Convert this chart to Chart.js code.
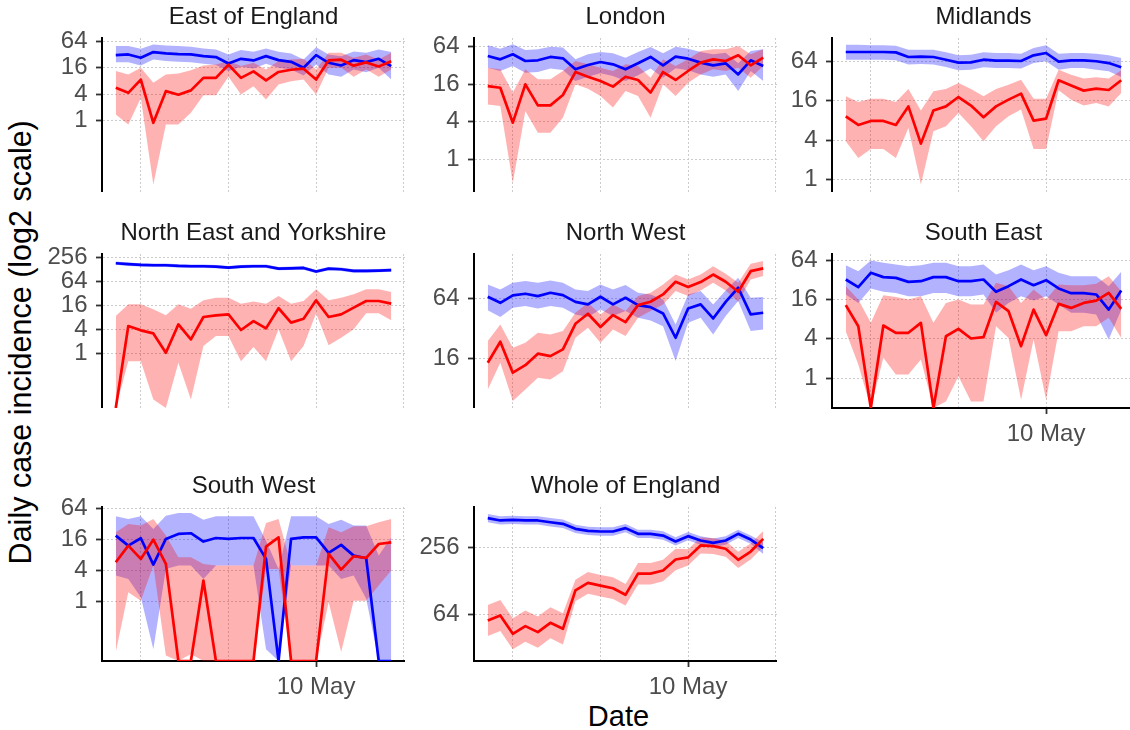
<!DOCTYPE html>
<html>
<head>
<meta charset="utf-8">
<script src="https://cdn.jsdelivr.net/npm/chart.js"></script>
<style>
  body { margin: 0; width: 1130px; height: 730px; overflow: hidden; background: #fff; position: relative;
         font-family: "Liberation Sans", Arial, sans-serif; }
  .panel { position: absolute; }
  #ytitle { position: absolute; left: -230px; top: 323.7px; width: 500px; height: 36.6px; line-height: 36.6px;
            font-size: 30.5px; text-align: center; color: #000; transform: rotate(-90deg); white-space: nowrap; }
  #xtitle { position: absolute; left: 418.5px; top: 699px; width: 400px; line-height: 34.8px;
            font-size: 29px; text-align: center; color: #000; }
</style>
</head>
<body>
<div id="ytitle">Daily case incidence (log2 scale)</div>
<div id="xtitle">Date</div>
<script>
// days shown on the x axis (index 0 = 24 Apr)
const dates = ['24 Apr','25 Apr','26 Apr','27 Apr','28 Apr','29 Apr','30 Apr','1 May','2 May','3 May','4 May','5 May',
               '6 May','7 May','8 May','9 May','10 May','11 May','12 May','13 May','14 May','15 May','16 May'];
const xGridDays = [2, 9, 16, 23];
const xLabelDays = [16];

// East of England
const eastBlue   = [30.9,32,26.9,36.2,33.8,32.6,32,29.3,27.9,20,25.5,23.4,29.3,23.8,21.8,16,30.9,20.7,18,23.8,21.4,25.5,17.4];
const eastBlueHi = [49.5,49.5,43.1,53.9,51.2,49.5,47.8,43.7,41.6,32,40.2,36.8,43.7,36.8,33.8,24.6,46.9,32,29.3,37.5,35,41.6,36.2];
const eastBlueLo = [21.4,21.4,18,24.6,22.6,21.8,21.4,19.7,18.4,13.4,16.8,15.4,19.7,16,14.6,10.7,19,11.2,10,14.6,12.7,16,8.7];
const eastRed    = [5.6,4.3,8.6,0.9,4.7,3.9,4.9,9.4,9.4,18.7,9.4,13.2,8.3,12.8,14.4,15.2,8.6,23.4,24.3,17.8,21.1,17.1,22.3];
const eastRedHi  = [13.4,11.2,16,7.3,11.2,11.9,14.1,18,19,22.6,17.4,20.7,14.6,22.6,24.6,25.5,14.6,35,35,26.9,32,24.6,35];
const eastRedLo  = [1.39,0.82,3.3,0.036,0.82,0.82,1.52,3.8,3.8,10,3.95,6.1,3.05,6.7,7.9,8.7,3.95,16,16,10,14.6,10,14.6];

// London
const londonBlue   = [45.6,40.3,48.5,37.9,38.9,44,41.8,27.9,32.7,36.5,33.5,27.9,34.8,44,32.3,44.5,41.3,35.7,32.3,34.8,23.1,38.9,31.5];
const londonBlueHi = [67.6,59.7,70.1,56.9,58.4,64.4,62.1,40.3,48.5,52.8,50.3,42.9,52.8,63.6,50.3,64.4,59.7,52.8,48.5,51.6,34.8,54.9,58.4];
const londonBlueLo = [29.6,26.2,31.5,24.6,25.2,28.6,27.2,18.1,21.2,24,21.8,18.1,22.3,28.6,20.5,28.9,26.9,23.1,21.2,23.1,12.5,26.2,18.1];
const londonRed    = [15,14.1,3.88,16,7.36,7.36,10.8,25.2,21.2,18.1,14.7,21.2,18.8,11.8,25.2,18.8,26.2,35.7,40.3,37.9,46.8,32.3,42.9];
const londonRedHi  = [29.6,27.9,11.8,27.9,19.3,19.3,26.2,37.9,33.5,29.6,26.2,33.5,31.5,20.5,40.3,31.5,40.3,54.9,58.4,58.4,65.9,48.5,58.4];
const londonRedLo  = [7.6,7.2,0.42,6.0,2.68,2.68,4.66,16,13.6,10.4,6.8,12.5,10.4,4.66,16,10.4,17,23.1,27.9,26.2,29.6,20.5,31.5];

// Midlands
const midBlue   = [88.6,88.6,88.6,88.6,87.5,74.4,75.4,74.4,67.6,60.9,61.7,67.6,65.4,65.4,64.6,78.8,85.6,63.3,66.2,66.2,64,60.1,51.7];
const midBlueHi = [114.6,114.6,112,112,110.7,96.3,96.3,96.3,87.5,78.8,80.6,87.5,85.6,85.6,83.7,101.8,112,83.7,85.6,85.6,83.7,78.8,71.8];
const midBlueLo = [67.6,67.6,67.6,67.6,66.2,56.9,58.1,56.9,52.4,46.5,47.5,51.7,50.6,50.6,49.5,60.1,64,47.5,50.6,50.6,47.5,44.9,36.8];
const midRed    = [9.25,6.82,7.85,7.85,6.82,13.1,3.54,11.3,13.1,18.2,13.5,8.93,13.1,16.6,20.5,7.94,8.52,32.8,27.2,22.8,24.4,23.3,32.8];
const midRedHi  = [18.7,15.3,17.2,17.2,15.3,24.1,11.3,22.3,24.1,29.8,24.1,18.7,24.1,28.1,33.5,17.2,17.2,47.6,40,34.8,36.4,34.8,46.5];
const midRedLo  = [3.84,2.14,2.93,2.93,2.14,6.14,0.84,5.46,6.5,10.4,6.5,3.84,6.5,9.25,11.7,2.93,2.93,23.1,16.6,13.5,14.8,13.1,21];

// North East and Yorkshire
const neBlue   = [181,171,164,161,161,155,152,152,149,141,149,152,152,133,135,138,112,133,128,116,116,118,121];
const neBlueHi = [199,188,180,177,177,171,167,167,164,155,164,167,167,146,149,152,123,146,141,128,128,130,133];
const neBlueLo = [165,155,149,146,146,141,138,138,135,128,135,138,138,121,123,125,102,121,116,105,105,107,110];
const neRed    = [0,4.85,3.78,3.17,1.04,5.33,2.24,8.15,8.98,9.51,3.85,6.46,4.24,13.5,5.89,7.41,21.3,8.15,9.51,14,20.5,20.5,17.6];
const neRedHi  = [8.64,17,17,12.7,8.98,17,13.2,21.3,24.9,24.9,17.6,19.8,17.6,27.4,17.6,20.5,40.3,21.3,24.9,30.2,40.3,40.3,34.5];
const neRedLo  = [0,0.64,0.64,0.07,0,0.58,0.07,1.53,2.72,2.72,0.64,1.44,0.64,4,0.64,1.53,10.1,1.59,2.47,4,10.1,10.1,6.73];

// North West
const nwBlue   = [67,58.3,69.1,71.9,68.1,73.5,69.7,59.6,56.2,67,56.2,65.5,55.3,52.8,45.6,26,51.2,56.2,40.6,59.6,82.5,44.6,46.3];
const nwBlueHi = [89.1,79.4,92.6,96.3,92.6,97.8,92.6,79.4,76.4,89.1,79.4,87.8,73.5,70.7,63,35.4,70.7,76.4,56.2,77.6,104,65.5,66.5];
const nwBlueLo = [49.2,41.9,52,54,51.2,54,52,44.6,41.9,50,42.9,48.1,41.3,38.8,34,15.2,36.8,41.3,28.1,42.9,60.6,30.3,31.5];
const nwRed    = [14.6,23.7,11.6,13.8,18,17,19.9,35.9,45.3,33.3,43.9,37.3,55.3,59.7,70.7,94.8,83.8,94.1,112,94.8,75.2,121,129];
const nwRedHi  = [24.1,35.4,20.6,23.2,29.2,28.1,30.3,46.3,58.3,44.6,56.2,48.1,68.1,73.5,89.1,112,100,112,136,114,92.6,144,153];
const nwRedLo  = [7.88,14.6,6.02,7.88,10.3,9.93,12,26,32.7,23.2,31.5,27,41.3,48.1,56.2,76.4,68.1,77.6,92.6,77.6,59.7,100,108];

// South East
const seBlue   = [32.4,24.7,41,35.2,34.3,29.8,30.5,35.2,35.2,30.5,30.5,32.4,21,25.6,32.4,26.5,31.6,23.6,20,20,19.1,11.2,22];
const seBlueHi = [53.7,43.4,63.3,58.2,54.9,51.8,53.7,58.2,58.2,51.8,51.8,54.9,38.6,44.9,54.9,44.9,51.8,41,36.4,36.4,36.4,25.6,42.4];
const seBlueLo = [19.1,14.2,23.6,21,20.2,18,18,20.2,20.2,18,18,19.1,10,14.2,18,15.4,18,13.4,10,10,9.43,3.91,11.2];
const seRed    = [13.1,6.25,0,6.4,4.95,4.95,7.03,0,4.39,5.69,4.05,4.24,14.7,10.6,3.09,11.2,4.55,13.7,11.9,14.2,15.4,20.2,11.5];
const seRedHi  = [25.6,16,7.03,18.6,17.4,16,18,7.03,14.2,16,13.4,13.4,28.8,25.6,14.2,22.8,16,27.1,26.5,26.5,27.8,36.4,21.4];
const seRedLo  = [5.24,1.62,0,2.05,1.14,1.14,1.93,0,0.44,1.07,0.44,0.44,6.25,4.14,0.47,3.91,0.47,5.24,5.24,6.25,6.25,8.39,4.14];

// South West
const swBlue   = [18.9,12.1,16.8,5.2,16.3,20.4,21,14.5,17,16.3,17,17,6.69,0,16.3,17.5,17.5,8.73,12.5,7.75,6.88,0,0];
const swBlueHi = [44.7,39.7,44.7,25.4,46,52,52,38.5,44.7,44.7,44.7,44.7,15.1,4.28,44.7,44.7,44.7,31.8,38.5,29.5,29.5,7.75,17.5];
const swBlueLo = [3.18,2.74,1.21,0.12,4.28,4.97,4.97,2.74,4.97,4.97,4.97,4.97,0.12,0,4.97,4.97,4.97,4.97,2.74,3.18,1.13,0,0];
const swRed    = [5.77,12.1,6.69,15.8,5.35,0,0,2.55,0,0,0,0,11.6,17.5,0,0,0,8.36,4.16,7.52,7,13,14];
const swRedHi  = [21.9,31.8,29.5,39.7,18.9,7.2,7.2,5.35,4.97,4.97,4.97,4.97,33.2,39.7,4.97,4.97,4.97,27.4,21.9,28.6,28.6,34.2,39.7];
const swRedLo  = [0.105,1.52,1.04,4.97,0.09,0,0.097,0,0,0,0,0,4.28,4.28,0,0,0,0.97,0.105,1.04,1.04,2.04,3.97];

// Whole of England
const woeBlue   = [473,451,457,451,451,435,421,379,364,359,359,385,342,342,330,292,326,298,284,298,342,304,254];
const woeBlueHi = [516,492,498,492,492,474,459,413,397,391,391,420,373,373,360,318,355,325,310,325,373,331,287];
const woeBlueLo = [434,414,419,414,414,399,386,348,334,329,329,353,314,314,303,268,299,273,261,273,314,279,225];
const woeRed    = [56.9,63.1,43.2,50.6,44.7,54.2,47.9,106,124,117,111,96.8,150,150,160,201,210,269,265,251,200,237,308];
const woeRedHi  = [78.5,87,59.6,69.8,61.7,74.8,66.1,132,155,146,139,121,187,187,200,251,248,317,313,296,236,280,363];
const woeRedLo  = [41.2,45.7,31.3,36.7,32.4,39.3,34.7,84.8,99.2,93.6,88.8,77.4,120,120,128,161,178,228,225,213,169,201,261];

const panels = [
  { title: 'East of England', col: 0, row: 0, yTicks: [1, 4, 16, 64], yMin: 0.0242, yMax: 75.6, xAxis: false,
    blue: eastBlue, blueHi: eastBlueHi, blueLo: eastBlueLo, red: eastRed, redHi: eastRedHi, redLo: eastRedLo },
  { title: 'London', col: 1, row: 0, yTicks: [1, 4, 16, 64], yMin: 0.30, yMax: 88.6, xAxis: false,
    blue: londonBlue, blueHi: londonBlueHi, blueLo: londonBlueLo, red: londonRed, redHi: londonRedHi, redLo: londonRedLo },
  { title: 'Midlands', col: 2, row: 0, yTicks: [1, 4, 16, 64], yMin: 0.646, yMax: 145, xAxis: false,
    blue: midBlue, blueHi: midBlueHi, blueLo: midBlueLo, red: midRed, redHi: midRedHi, redLo: midRedLo },
  { title: 'North East and Yorkshire', col: 0, row: 1, yTicks: [1, 4, 16, 64, 256], yMin: 0.043, yMax: 308, xAxis: false,
    blue: neBlue, blueHi: neBlueHi, blueLo: neBlueLo, red: neRed, redHi: neRedHi, redLo: neRedLo },
  { title: 'North West', col: 1, row: 1, yTicks: [16, 64], yMin: 5.13, yMax: 180, xAxis: false,
    blue: nwBlue, blueHi: nwBlueHi, blueLo: nwBlueLo, red: nwRed, redHi: nwRedHi, redLo: nwRedLo },
  { title: 'South East', col: 2, row: 1, yTicks: [1, 4, 16, 64], yMin: 0.35, yMax: 79.5, xAxis: true,
    blue: seBlue, blueHi: seBlueHi, blueLo: seBlueLo, red: seRed, redHi: seRedHi, redLo: seRedLo },
  { title: 'South West', col: 0, row: 2, yTicks: [1, 4, 16, 64], yMin: 0.0707, yMax: 67.6, xAxis: true,
    blue: swBlue, blueHi: swBlueHi, blueLo: swBlueLo, red: swRed, redHi: swRedHi, redLo: swRedLo },
  { title: 'Whole of England', col: 1, row: 2, yTicks: [64, 256], yMin: 24.6, yMax: 596, xAxis: true,
    blue: woeBlue, blueHi: woeBlueHi, blueLo: woeBlueLo, red: woeRed, redHi: woeRedHi, redLo: woeRedLo }
];

const FONT = '"Liberation Sans", Arial, sans-serif';
Chart.defaults.font.family = FONT;

const colLeft = [102, 474, 832];
const rowTop = [38, 254, 507];
const plotW = 303, plotH = 154, axisW = 100, titleH = 38, xAxisH = 45;

// zero counts sit on the panel floor, as ggplot squishes -Inf
function series(values, floor) {
  return values.map((v, i) => ({ x: i, y: v === 0 ? floor : v }));
}

function band(data, color, fillTo) {
  return { data: data, borderWidth: 0, borderColor: 'rgba(0,0,0,0)', pointRadius: 0,
           fill: fillTo, backgroundColor: color, clip: 0 };
}

function line(data, color) {
  return { data: data, borderColor: color, borderWidth: 2.7, pointRadius: 0, fill: false,
           borderJoinStyle: 'round', clip: 0 };
}

panels.forEach(p => {
  const div = document.createElement('div');
  div.className = 'panel';
  const w = axisW + plotW;
  const h = titleH + plotH + (p.xAxis ? xAxisH : 0);
  div.style.left = (colLeft[p.col] - axisW) + 'px';
  div.style.top = (rowTop[p.row] - titleH) + 'px';
  const canvas = document.createElement('canvas');
  canvas.width = w;
  canvas.height = h;
  canvas.style.width = w + 'px';
  canvas.style.height = h + 'px';
  div.appendChild(canvas);
  document.body.appendChild(div);

  new Chart(canvas.getContext('2d'), {
    type: 'line',
    data: {
      datasets: [
        line(series(p.red, p.yMin), '#FF0000'),
        line(series(p.blue, p.yMin), '#0000FF'),
        band(series(p.redHi, p.yMin), 'rgba(255,0,0,0.3)', '+1'),
        band(series(p.redLo, p.yMin), 'rgba(0,0,0,0)', false),
        band(series(p.blueHi, p.yMin), 'rgba(0,0,255,0.3)', '+1'),
        band(series(p.blueLo, p.yMin), 'rgba(0,0,0,0)', false)
      ]
    },
    options: {
      responsive: false,
      animation: false,
      devicePixelRatio: 1,
      layout: { padding: 0, autoPadding: false },
      plugins: {
        legend: { display: false },
        tooltip: { enabled: false },
        title: {
          display: true,
          text: p.title,
          fullSize: false,
          color: '#1A1A1A',
          font: { size: 24, weight: 'normal', family: FONT, lineHeight: 1.2 },
          padding: { top: 3.4, bottom: 5.8 }
        }
      },
      scales: {
        x: {
          type: 'linear',
          min: -1.1,
          max: 23.1,
          bounds: 'data',
          afterBuildTicks: s => { s.ticks = xGridDays.map(v => ({ value: v })); },
          afterFit: s => { s.height = p.xAxis ? xAxisH : 0; s.paddingLeft = 0; s.paddingRight = 0; },
          ticks: {
            display: p.xAxis,
            autoSkip: false,
            maxRotation: 0,
            padding: 6,
            color: '#4D4D4D',
            font: { size: 24, family: FONT },
            callback: v => (xLabelDays.includes(v) ? dates[v] : '')
          },
          grid: {
            color: '#CCCCCC',
            lineWidth: 1,
            drawTicks: p.xAxis,
            tickLength: 6,
            tickWidth: 1.8,
            tickBorderDash: [],
            tickColor: c => (c.tick && xLabelDays.includes(c.tick.value) ? '#333333' : 'rgba(0,0,0,0)')
          },
          border: { display: p.xAxis, color: '#000000', width: 2, dash: [2, 2] }
        },
        y: {
          type: 'logarithmic',
          min: p.yMin,
          max: p.yMax,
          bounds: 'data',
          afterBuildTicks: s => { s.ticks = p.yTicks.map(v => ({ value: v })); },
          afterFit: s => { s.width = axisW; s.paddingTop = 0; s.paddingBottom = 0; },
          ticks: {
            autoSkip: false,
            padding: 8.5,
            color: '#4D4D4D',
            font: { size: 24, family: FONT },
            callback: v => String(v)
          },
          grid: {
            color: '#CCCCCC',
            lineWidth: 1,
            tickLength: 6,
            tickWidth: 1.8,
            tickBorderDash: [],
            tickColor: '#333333'
          },
          border: { display: true, color: '#000000', width: 2, dash: [2, 2] }
        }
      }
    }
  });
});
</script>
</body>
</html>
